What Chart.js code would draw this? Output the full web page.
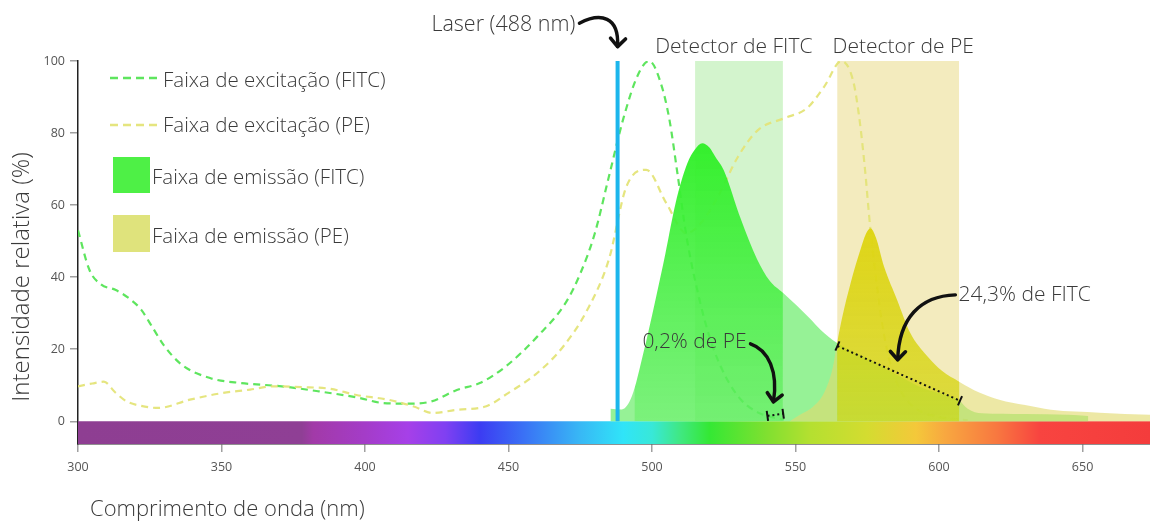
<!DOCTYPE html>
<html>
<head>
<meta charset="utf-8">
<script src="https://cdn.jsdelivr.net/npm/chart.js@4.4.1/dist/chart.umd.min.js"></script>
<style>
  html, body { margin: 0; padding: 0; background: #ffffff; }
  #wrap { width: 1150px; height: 522px; position: relative; }
</style>
</head>
<body>
<div id="wrap"><canvas id="c" width="1150" height="522"></canvas></div>
<script>
// ---------------- DATA ----------------
const wavelengthMin = 300;
const wavelengthMax = 673.5;
const intensityMin = -6.3;
const intensityMax = 100;
const xTickValues = [300, 350, 400, 450, 500, 550, 600, 650];
const yTickValues = [0, 20, 40, 60, 80, 100];

const fitcExcitationNm  = [300, 304, 308, 313, 318, 322, 326, 330, 336, 346, 357, 371, 384, 398, 406, 415, 423, 432, 440, 449, 460, 470, 475, 480, 485, 490, 495, 499, 503, 506, 509, 512, 516, 520, 525, 531, 537, 541, 546];
const fitcExcitationPct = [53, 42, 38, 36.5, 34, 31, 26, 21, 15.8, 12, 10.6, 9.7, 8.3, 6.5, 5.1, 4.9, 5.5, 8.7, 10.6, 15.2, 23.5, 33, 41, 52, 68, 84, 96, 100, 94, 84, 68, 51.3, 35.6, 23.5, 13.4, 6, 2.4, 1.3, 0.5];

const peExcitationNm  = [300, 305, 309, 313, 317, 322, 328, 339, 350, 360, 368, 378, 388, 397, 408, 417, 423.6, 432, 442, 450, 460, 469, 477.5, 485, 491, 498, 505, 512, 517, 523, 530, 537, 546, 554, 560, 566, 570, 572, 574, 576, 578, 580, 583, 587, 592, 600, 610];
const peExcitationPct = [9.7, 10.5, 11, 8, 5.5, 4.3, 3.7, 6, 7.8, 8.8, 9.7, 9.5, 9, 7.3, 6, 4.1, 2.3, 3.2, 4.1, 7.9, 13.4, 20.7, 31, 45, 65, 69.8, 60.5, 52.2, 55, 62.4, 73.5, 80.9, 84.1, 86.9, 92.9, 100, 94.7, 85.5, 71.6, 54, 40, 28, 16, 8, 3.5, 1.2, 0.3];

const fitcEmissionNm  = [485.5, 489.5, 493, 497, 501, 504.7, 508.2, 512.3, 515, 517.5, 520, 522, 525, 531, 536.6, 541, 545.7, 550.6, 555, 558.7, 564.5, 575, 585, 595, 607, 610, 615, 630, 645, 652];
const fitcEmissionPct = [3.5, 3.3, 7, 19, 33, 46.7, 60.5, 71.6, 75.5, 77.2, 76, 73.5, 69.7, 56, 45, 39, 35.6, 32, 28.5, 25.4, 21.7, 17.5, 13, 9, 5.8, 3.5, 2.2, 2, 1.8, 1.5];

const peEmissionNm  = [548, 552, 556, 560, 563, 564.5, 566.3, 569.2, 572.6, 574.5, 576.1, 578, 580.8, 585.4, 590, 596, 601, 607, 614, 621, 630, 639, 656, 673.5];
const peEmissionPct = [0, 2, 4, 8, 15, 21.8, 29, 38.4, 47.6, 52, 53.6, 51, 43, 33.7, 24.5, 18, 14, 11, 8, 6, 4.5, 3.2, 2.4, 1.8];

const fitcDetectorNm = [515, 545.6];
const peDetectorNm   = [564.5, 607];
const detectorTopPct = 100;
const laserNm = 488;

// spillover markers (nm, %)
const peInFitcNm  = [540.2, 545.7];
const peInFitcPct = [1.5, 2.1];
const fitcInPeNm  = [564.6, 607.3];
const fitcInPePct = [20.9, 5.7];

const spectrumNm = [300, 378, 382, 400, 415, 428, 440, 455, 475, 490, 500, 510, 520, 540, 555, 575, 592, 602, 620, 635, 673.5];

const legendLabels = ['Faixa de excitação (FITC)', 'Faixa de excitação (PE)', 'Faixa de emissão (FITC)', 'Faixa de emissão (PE)'];
const xAxisTitle = 'Comprimento de onda (nm)';
const yAxisTitle = 'Intensidade relativa (%)';

// ---------------- STYLE ----------------
const spectrumColors = ['#8e3e92', '#8f3f95', '#a23aa8', '#a43cc8', '#a640e8', '#8040f2', '#3c3cf2', '#3a70f5', '#38b8f5', '#30e4f8', '#38e8d8', '#40e880', '#34e834', '#80e030', '#b4e030', '#d4dc30', '#f4c83a', '#f8a840', '#f87840', '#f84440', '#f43c3c'];
const FONT = '"Open Sans", "Noto Sans", sans-serif';
const TEXT = '#3a3a3a';
const fitcLine = 'rgba(85,228,85,0.95)';
const peLine = 'rgba(228,228,120,0.95)';

// annotations: texts anchored in data space (nm, %)
const annotationTexts = [
  { text: 'Laser (488 nm)',    nm: 473.3, pct: 110.0, align: 'right',  size: 21.5 },
  { text: 'Detector de FITC',  nm: 528.5, pct: 103.9, align: 'center', size: 21 },
  { text: 'Detector de PE',    nm: 587.5, pct: 103.9, align: 'center', size: 21 },
  { text: '0,2% de PE',        nm: 514.8, pct: 22.1,  align: 'center', size: 21 },
  { text: '24,3% de FITC',     nm: 606.8, pct: 35.1,  align: 'left',   size: 21 }
];
// arrows as cubic curves in data space: start, ctrl1, ctrl2, end
const annotationArrows = [
  [[474.7, 110.5], [482, 113.5], [488.6, 112.5], [488.0, 104.0]],
  [[534.3, 21.5], [540.6, 19.8], [544.0, 13.7], [542.3, 5.4]],
  [[605.7, 35.1], [593.5, 34.8], [586.0, 28.7], [585.6, 17.1]]
];

function pts(xs, ys) { return xs.map((x, i) => ({ x: x, y: ys[i] })); }

const patternCache = {};
function regionFill(name, lightColor, coreRange, coreTopPct, coreTop, coreBottom) {
  return function (ctx) {
    const chart = ctx.chart;
    const a = chart.chartArea;
    if (!a || !chart.scales.x) return lightColor;
    const key = name + '|' + a.left + '|' + a.right + '|' + a.top + '|' + a.bottom;
    if (patternCache[key]) return patternCache[key];
    const off = document.createElement('canvas');
    off.width = chart.width; off.height = chart.height;
    const o = off.getContext('2d');
    o.fillStyle = lightColor;
    o.fillRect(0, 0, off.width, off.height);
    const x0 = chart.scales.x.getPixelForValue(coreRange[0]);
    const x1 = chart.scales.x.getPixelForValue(coreRange[1]);
    const yt = chart.scales.y.getPixelForValue(coreTopPct);
    const yb = chart.scales.y.getPixelForValue(0);
    const g = o.createLinearGradient(0, yt, 0, yb);
    g.addColorStop(0, coreTop);
    g.addColorStop(1, coreBottom);
    o.clearRect(x0, 0, x1 - x0, off.height);
    o.fillStyle = g;
    o.fillRect(x0, 0, x1 - x0, off.height);
    const p = chart.ctx.createPattern(off, 'no-repeat');
    patternCache[key] = p;
    return p;
  };
}

function spectrumFill(ctx) {
  const chart = ctx.chart;
  const a = chart.chartArea;
  if (!a || !chart.scales.x) return spectrumColors[0];
  const xs = chart.scales.x;
  const x0 = xs.getPixelForValue(wavelengthMin), x1 = xs.getPixelForValue(wavelengthMax);
  const g = chart.ctx.createLinearGradient(x0, 0, x1, 0);
  spectrumNm.forEach((nm, i) => {
    g.addColorStop((nm - wavelengthMin) / (wavelengthMax - wavelengthMin), spectrumColors[i]);
  });
  return g;
}

const maxOf = (xs, ys, r) => Math.max(...ys.filter((v, i) => xs[i] >= r[0] && xs[i] <= r[1]));

const datasets = [
  { // spectrum bar
    data: [{ x: wavelengthMin, y: 0 }, { x: wavelengthMax, y: 0 }],
    fill: { value: intensityMin }, backgroundColor: spectrumFill, borderWidth: 0, pointRadius: 0, order: 20
  },
  { // FITC detector
    data: fitcDetectorNm.map(x => ({ x: x, y: detectorTopPct })),
    fill: 'origin', backgroundColor: 'rgba(150,228,135,0.42)', borderWidth: 0, pointRadius: 0, order: 19
  },
  { // PE detector
    data: peDetectorNm.map(x => ({ x: x, y: detectorTopPct })),
    fill: 'origin', backgroundColor: 'rgba(226,206,92,0.40)', borderWidth: 0, pointRadius: 0, order: 18
  },
  { // FITC excitation
    data: pts(fitcExcitationNm, fitcExcitationPct), borderColor: fitcLine, borderWidth: 2.2,
    borderDash: [7, 5], fill: false, pointRadius: 0, cubicInterpolationMode: 'monotone', order: 16
  },
  { // PE excitation
    data: pts(peExcitationNm, peExcitationPct), borderColor: peLine, borderWidth: 2.2,
    borderDash: [7, 5], fill: false, pointRadius: 0, cubicInterpolationMode: 'monotone', order: 15
  },
  { // FITC emission
    data: pts(fitcEmissionNm, fitcEmissionPct), borderWidth: 0, pointRadius: 0, fill: 'origin',
    cubicInterpolationMode: 'monotone', order: 12,
    backgroundColor: regionFill('fitc', 'rgba(100,236,100,0.68)', [494, fitcDetectorNm[1]],
      maxOf(fitcEmissionNm, fitcEmissionPct, [494, 546]), 'rgba(48,240,40,0.97)', 'rgba(95,238,95,0.82)')
  },
  { // PE emission
    data: pts(peEmissionNm, peEmissionPct), borderWidth: 0, pointRadius: 0, fill: 'origin',
    cubicInterpolationMode: 'monotone', order: 11,
    backgroundColor: regionFill('pe', 'rgba(226,218,110,0.62)', peDetectorNm,
      maxOf(peEmissionNm, peEmissionPct, peDetectorNm), 'rgba(222,212,14,0.95)', 'rgba(214,214,30,0.78)')
  },
  { // laser
    data: [{ x: laserNm, y: 0 }, { x: laserNm, y: intensityMax }], borderColor: '#1cb6ec', borderWidth: 4,
    pointRadius: 0, fill: false, order: 2
  },
  { // PE spillover into FITC detector
    data: pts(peInFitcNm, peInFitcPct), borderColor: '#111', borderWidth: 2, borderDash: [2, 3],
    pointRadius: 0, fill: false, order: 1
  },
  { // FITC spillover into PE detector
    data: pts(fitcInPeNm, fitcInPePct), borderColor: '#111', borderWidth: 2, borderDash: [2, 3],
    pointRadius: 0, fill: false, order: 0
  }
];

function drawArrow(c, p0, p1, p2, p3) {
  c.save();
  c.strokeStyle = '#111';
  c.lineWidth = 3.4;
  c.lineCap = 'round';
  c.lineJoin = 'round';
  c.beginPath();
  c.moveTo(p0[0], p0[1]);
  c.bezierCurveTo(p1[0], p1[1], p2[0], p2[1], p3[0], p3[1]);
  c.stroke();
  const ang = Math.atan2(p3[1] - p2[1], p3[0] - p2[0]);
  const L = 11, spread = 0.75;
  c.lineWidth = 3.6;
  c.beginPath();
  c.moveTo(p3[0] - L * Math.cos(ang - spread), p3[1] - L * Math.sin(ang - spread));
  c.lineTo(p3[0], p3[1]);
  c.lineTo(p3[0] - L * Math.cos(ang + spread), p3[1] - L * Math.sin(ang + spread));
  c.stroke();
  c.restore();
}

function endTicks(c, a, b) {
  const ang = Math.atan2(b[1] - a[1], b[0] - a[0]) + Math.PI / 2;
  c.save();
  c.strokeStyle = '#111';
  c.lineWidth = 2;
  [a, b].forEach(p => {
    c.beginPath();
    c.moveTo(p[0] - 5 * Math.cos(ang), p[1] - 5 * Math.sin(ang));
    c.lineTo(p[0] + 5 * Math.cos(ang), p[1] + 5 * Math.sin(ang));
    c.stroke();
  });
  c.restore();
}

const decorPlugin = {
  id: 'decor',
  afterDraw(chart) {
    const c = chart.ctx;
    const xs = chart.scales.x, ys = chart.scales.y;
    const P = (nm, v) => [xs.getPixelForValue(nm), ys.getPixelForValue(v)];

    endTicks(c, P(peInFitcNm[0], peInFitcPct[0]), P(peInFitcNm[1], peInFitcPct[1]));
    endTicks(c, P(fitcInPeNm[0], fitcInPePct[0]), P(fitcInPeNm[1], fitcInPePct[1]));

    c.save();
    c.fillStyle = TEXT;
    c.textBaseline = 'middle';
    annotationTexts.forEach(t => {
      c.font = '300 ' + t.size + 'px ' + FONT;
      c.textAlign = t.align;
      const p = P(t.nm, t.pct);
      c.fillText(t.text, p[0], p[1]);
    });
    c.restore();

    annotationArrows.forEach(a => drawArrow(c, P(...a[0]), P(...a[1]), P(...a[2]), P(...a[3])));

    // legend
    const L = chart.chartArea.left;
    c.save();
    c.lineWidth = 2.6;
    c.setLineDash([8, 5]);
    c.strokeStyle = fitcLine;
    c.beginPath(); c.moveTo(L + 32, 78); c.lineTo(L + 82, 78); c.stroke();
    c.strokeStyle = peLine;
    c.beginPath(); c.moveTo(L + 32, 125); c.lineTo(L + 82, 125); c.stroke();
    c.setLineDash([]);
    c.fillStyle = '#4ef046';
    c.fillRect(L + 35, 157, 37, 36);
    c.fillStyle = '#dfe37c';
    c.fillRect(L + 35, 215, 37, 37);
    c.fillStyle = TEXT;
    c.font = '300 20.5px ' + FONT;
    c.textAlign = 'left';
    c.textBaseline = 'middle';
    c.fillText(legendLabels[0], L + 85, 81);
    c.fillText(legendLabels[1], L + 85, 126);
    c.fillText(legendLabels[2], L + 74, 178);
    c.fillText(legendLabels[3], L + 74, 237);

    // axis titles
    c.font = '300 22px ' + FONT;
    c.fillText(xAxisTitle, 90, 510);
    c.translate(22, 277);
    c.rotate(-Math.PI / 2);
    c.textAlign = 'center';
    c.font = '300 24px ' + FONT;
    c.fillText(yAxisTitle, 0, 0);
    c.restore();
  }
};

Chart.defaults.font.family = FONT;

new Chart(document.getElementById('c'), {
  type: 'line',
  data: { datasets: datasets },
  plugins: [decorPlugin],
  options: {
    responsive: false,
    animation: false,
    events: [],
    devicePixelRatio: 1,
    layout: { padding: { top: 61, left: 0, right: 0, bottom: 0 } },
    plugins: { legend: { display: false }, tooltip: { enabled: false } },
    elements: { line: { tension: 0.4 } },
    scales: {
      x: {
        type: 'linear', min: wavelengthMin, max: wavelengthMax,
        afterBuildTicks: s => { s.ticks = xTickValues.map(v => ({ value: v })); },
        afterFit: s => { s.height = 78; },
        grid: { drawOnChartArea: false, drawTicks: true, tickLength: 8, color: '#a0a0a0', lineWidth: 1.5 },
        border: { display: true, color: '#222', width: 1.5 },
        ticks: { color: '#555', font: { size: 12.5 }, padding: 8, maxRotation: 0, autoSkip: false }
      },
      y: {
        type: 'linear', min: intensityMin, max: intensityMax,
        afterBuildTicks: s => { s.ticks = yTickValues.map(v => ({ value: v })); },
        afterFit: s => { s.width = 78; },
        grid: { drawOnChartArea: false, drawTicks: true, tickLength: 8, color: '#a0a0a0', lineWidth: 1.5 },
        border: { display: true, color: '#222', width: 1.5 },
        ticks: { color: '#555', font: { size: 12.5 }, padding: 5 }
      }
    }
  }
});
</script>
</body>
</html>
